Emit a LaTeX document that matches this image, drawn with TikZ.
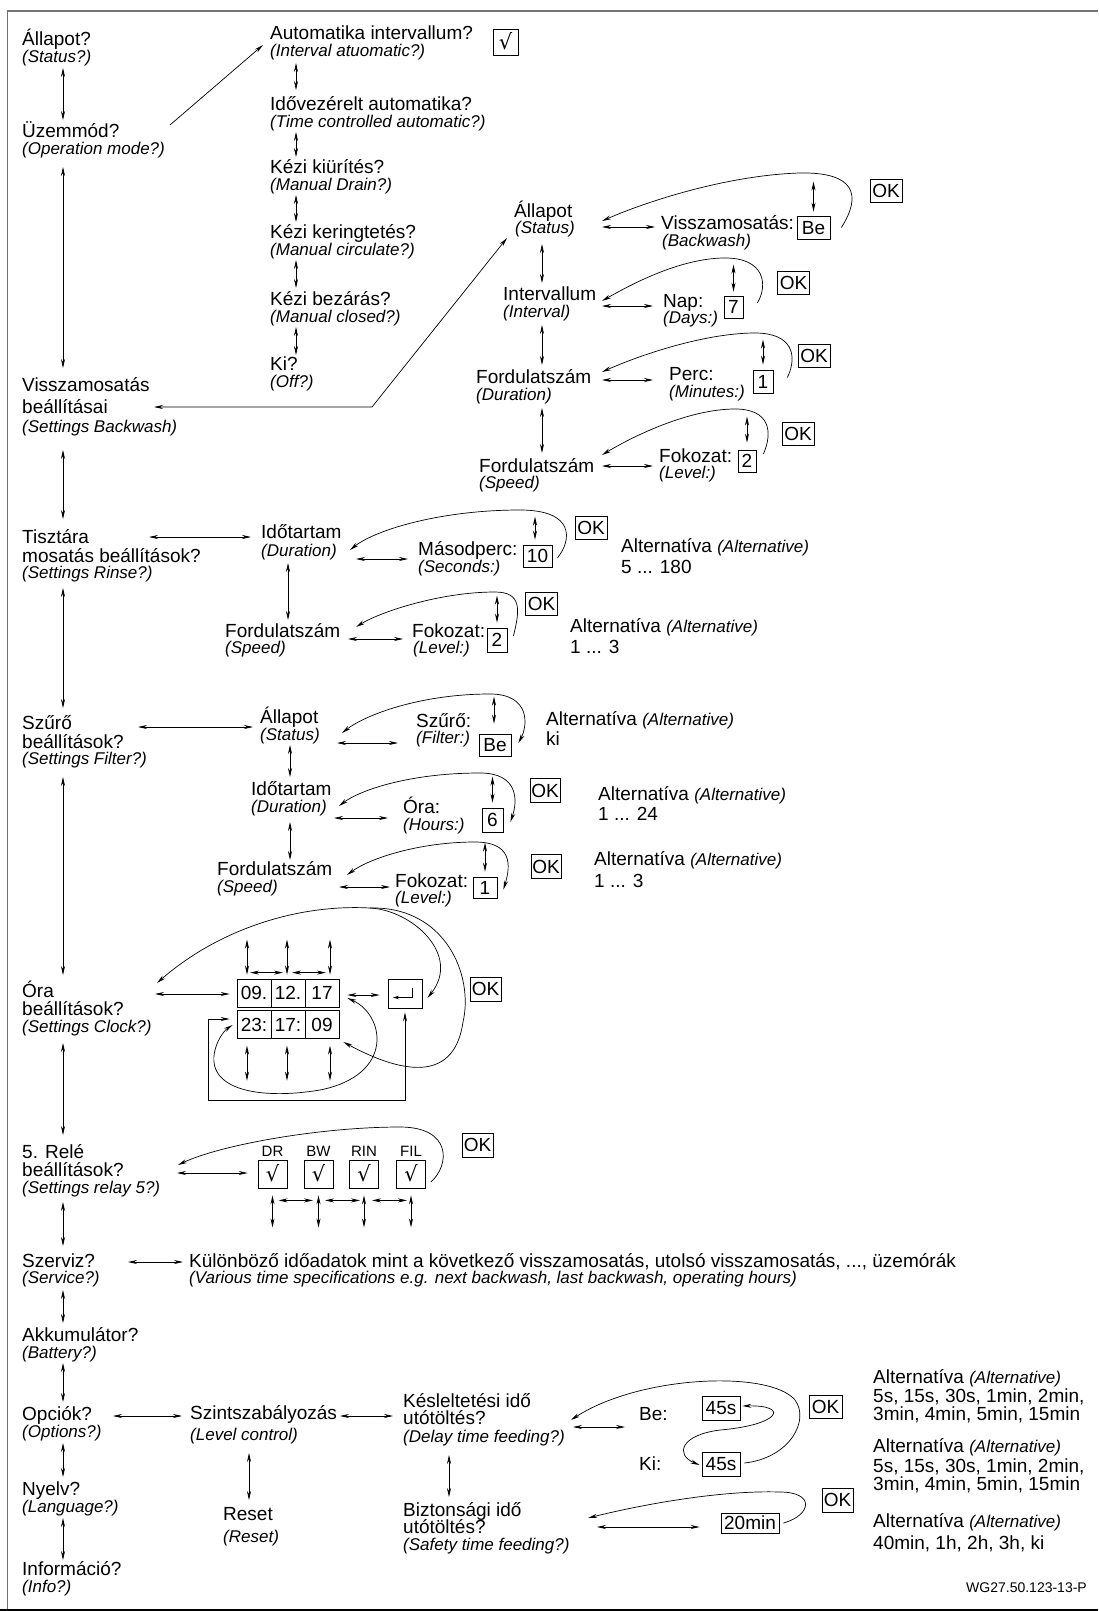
\documentclass[tikz,border=0pt]{standalone}
\usepackage{fontspec}
\setmainfont{Liberation Sans}
\newfontfamily\symfont{DejaVu Sans}
\usetikzlibrary{arrows.meta,positioning,calc}
\newcommand\hufont{\fontsize{19}{22}\selectfont}
\newcommand\enfont{\fontsize{17}{20}\selectfont\itshape}
\newcommand\chkfont{\symfont\fontsize{21}{23}\selectfont}
\tikzset{
  hu/.style={anchor=base west, inner sep=0pt, font=\hufont},
  en/.style={anchor=base west, inner sep=0pt, font=\enfont},
  valbox/.style={draw, line width=0.8pt, inner sep=0pt, text height=13.5pt, text depth=0pt, font=\hufont},
  okbox/.style={valbox, minimum width=32pt, minimum height=23pt},
  cell/.style={valbox, minimum width=34pt, minimum height=28pt},
  chkbox/.style={valbox, text height=15pt, font=\chkfont},
  rlbl/.style={inner sep=0pt, font=\fontsize{15}{17}\selectfont},
  dbl/.style={line width=0.7pt, {Stealth[length=9pt,width=4pt]}-{Stealth[length=9pt,width=4pt]}},
  one/.style={line width=0.7pt, -{Stealth[length=9pt,width=4pt]}},
}
\begin{document}
\begin{tikzpicture}[x=1pt,y=-1pt]
\useasboundingbox (0,0) rectangle (1098,1611);
\draw[black!55, line width=1.5pt] (7.5,1611) -- (7.5,11) -- (1098,11);
\draw[line width=2pt] (0,1609.5) -- (1098,1609.5);

% main menu
\node[hu] (st) at (22,46) {Állapot?};
\node[en] (st-en) at (22,63) {(Status?)};
\node[hu] (mode) at (22,137) {Üzemmód?};
\node[en] (mode-en) at (22,154) {(Operation mode?)};
\node[hu] (bw) at (22,391) {Visszamosatás};
\node[hu] (bw2) at (22,413) {beállításai};
\node[en] (bw-en) at (22,432) {(Settings Backwash)};
\node[hu] (ri) at (22,543) {Tisztára};
\node[hu] (ri2) at (22,562) {mosatás beállítások?};
\node[en] (ri-en) at (22,578) {(Settings Rinse?)};
\node[hu] (fi) at (22,729) {Szűrő};
\node[hu] (fi2) at (22,748) {beállítások?};
\node[en] (fi-en) at (22,764) {(Settings Filter?)};
\node[hu] (cl) at (22,997) {Óra};
\node[hu] (cl2) at (22,1015) {beállítások?};
\node[en] (cl-en) at (22,1032) {(Settings Clock?)};
\node[hu] (re) at (22,1158) {5. Relé};
\node[hu] (re2) at (22,1176) {beállítások?};
\node[en] (re-en) at (22,1193) {(Settings relay 5?)};
\node[hu] (sv) at (22,1267) {Szerviz?};
\node[en] (sv-en) at (22,1283) {(Service?)};
\node[hu] (ak) at (22,1341) {Akkumulátor?};
\node[en] (ak-en) at (22,1358) {(Battery?)};
\node[hu] (op) at (22,1420) {Opciók?};
\node[en] (op-en) at (22,1437) {(Options?)};
\node[hu] (ny) at (22,1495) {Nyelv?};
\node[en] (ny-en) at (22,1512) {(Language?)};
\node[hu] (info) at (22,1575) {Információ?};
\node[en] (info-en) at (22,1592) {(Info?)};

\draw[dbl] ([shift={(41,5)}]st-en.base west) -- ([shift={(41,-17)}]mode.base west);
\draw[dbl] ([shift={(41,13)}]mode-en.base west) -- ([shift={(41,-23)}]bw.base west);
\draw[dbl] ([shift={(41,18)}]bw-en.base west) -- ([shift={(41,-24)}]ri.base west);
\draw[dbl] ([shift={(41,10)}]ri-en.base west) -- ([shift={(41,-21)}]fi.base west);
\draw[dbl] ([shift={(41,13)}]fi-en.base west) -- ([shift={(41,-22)}]cl.base west);
\draw[dbl] ([shift={(41,11)}]cl-en.base west) -- ([shift={(41,-23)}]re.base west);
\draw[dbl] ([shift={(41,9)}]re-en.base west) -- ([shift={(41,-21)}]sv.base west);
\draw[dbl] ([shift={(41,7)}]sv-en.base west) -- ([shift={(41,-18)}]ak.base west);
\draw[dbl] ([shift={(41,5)}]ak-en.base west) -- ([shift={(41,-18)}]op.base west);
\draw[dbl] ([shift={(41,6)}]op-en.base west) -- ([shift={(41,-18)}]ny.base west);
\draw[dbl] ([shift={(41,6)}]ny-en.base west) -- ([shift={(41,-15)}]info.base west);

% operation modes
\node[hu] (au) at (270,40) {Automatika intervallum?};
\node[en] (au-en) at (270,57) {(Interval atuomatic?)};
\node[hu] (tc) at (270,110) {Idővezérelt automatika?};
\node[en] (tc-en) at (270,127) {(Time controlled automatic?)};
\node[hu] (md) at (270,173) {Kézi kiürítés?};
\node[en] (md-en) at (270,190) {(Manual Drain?)};
\node[hu] (mc) at (270,238) {Kézi keringtetés?};
\node[en] (mc-en) at (270,255) {(Manual circulate?)};
\node[hu] (mb) at (270,305) {Kézi bezárás?};
\node[en] (mb-en) at (270,322) {(Manual closed?)};
\node[hu] (off) at (270,370) {Ki?};
\node[en] (off-en) at (270,387) {(Off?)};
\node[chkbox, minimum width=25pt, minimum height=26pt] (chk) at (505.5,42) {√};

\draw[dbl] ([shift={(26,6)}]au-en.base west) -- ([shift={(26,-20)}]tc.base west);
\draw[dbl] ([shift={(26,5)}]tc-en.base west) -- ([shift={(26,-16)}]md.base west);
\draw[dbl] ([shift={(26,5)}]md-en.base west) -- ([shift={(26,-16)}]mc.base west);
\draw[dbl] ([shift={(26,5)}]mc-en.base west) -- ([shift={(26,-17)}]mb.base west);
\draw[dbl] ([shift={(26,5)}]mb-en.base west) -- ([shift={(26,-15)}]off.base west);
\draw[one] ([shift={(148,-29)}]mode-en.base west) -- ([shift={(-7,-12)}]au-en.base west);

% backwash settings
\node[hu] (stb) at (514,217) {Állapot};
\node[en] (stb-en) at (515,233) {(Status)};
\node[hu] (itv) at (503,300) {Intervallum};
\node[en] (itv-en) at (503,317) {(Interval)};
\node[hu] (dur) at (476,383) {Fordulatszám};
\node[en] (dur-en) at (476,400) {(Duration)};
\node[hu] (spd) at (479,472) {Fordulatszám};
\node[en] (spd-en) at (479,488) {(Speed)};
\coordinate (bwbend) at (372,407);
\draw[dbl] ([shift={(132,-6)}]bw2.base west) -- (bwbend) -- ([shift={(-8,5)}]stb-en.base west);
\draw[dbl] ([shift={(27,11)}]stb-en.base west) -- ([shift={(39,-17)}]itv.base west);
\draw[dbl] ([shift={(39,8)}]itv-en.base west) -- ([shift={(66,-18)}]dur.base west);
\draw[dbl] ([shift={(66,8)}]dur-en.base west) -- ([shift={(63,-19)}]spd.base west);

\node[hu] (bwv) at (661,229) {Visszamosatás:};
\node[en] (bwv-en) at (662,246) {(Backwash)};
\node[hu] (nap) at (663,307) {Nap:};
\node[en] (nap-en) at (663,323) {(Days:)};
\node[hu] (perc) at (669,380) {Perc:};
\node[en] (perc-en) at (669,397) {(Minutes:)};
\node[hu] (fok) at (659,462) {Fokozat:};
\node[en] (fok-en) at (659,478) {(Level:)};
\node[valbox, minimum width=33pt, minimum height=23pt] (be1) at (813.5,227.5) {Be};
\node[valbox, minimum width=19pt, minimum height=22pt] (v7) at (733.5,307) {7};
\node[valbox, minimum width=20pt, minimum height=23pt] (v1) at (763,381.5) {1};
\node[valbox, minimum width=18pt, minimum height=22pt] (v2) at (747,461) {2};
\node[okbox] (ok1) at (886,191) {OK};
\node[okbox] (ok2) at (793.5,283) {OK};
\node[okbox] (ok3) at (814,355.5) {OK};
\node[okbox] (ok4) at (798,434) {OK};

\draw[dbl] ([shift={(87,-6)}]stb-en.base west) -- ([shift={(-6,-2)}]bwv.base west);
\draw[dbl] ([shift={(99,-11)}]itv-en.base west) -- ([shift={(-10,-1)}]nap.base west);
\draw[dbl] ([shift={(126,-20)}]dur-en.base west) -- ([shift={(-16,0)}]perc.base west);
\draw[dbl] ([shift={(123,-22)}]spd-en.base west) -- ([shift={(-6,4)}]fok.base west);
\draw[dbl] ([shift={(0,-34)}]be1.north) -- ([shift={(0,-4)}]be1.north);
\draw[dbl] ([shift={(0,-31)}]v7.north) -- ([shift={(0,-4)}]v7.north);
\draw[dbl] ([shift={(0,-30)}]v1.north) -- ([shift={(0,-5)}]v1.north);
\draw[dbl] ([shift={(0,-33)}]v2.north) -- ([shift={(0,-7)}]v2.north);
\draw[one] ([shift={(11,0)}]be1.east) .. controls (862,195) and (855,172) .. (800,173)
  .. controls (730,175) and (650,200) .. ([shift={(87,-12)}]stb-en.base west);
\draw[one] ([shift={(14,-4)}]v7.east) .. controls (768,285) and (765,258) .. (725,258)
  .. controls (680,258) and (630,285) .. ([shift={(99,-16)}]itv-en.base west);
\draw[one] ([shift={(14,-4)}]v1.east) .. controls (798,355) and (792,333) .. (755,333)
  .. controls (705,333) and (640,355) .. ([shift={(126,-28)}]dur-en.base west);
\draw[one] ([shift={(7,-7)}]v2.east) .. controls (773,432) and (770,409) .. (735,409)
  .. controls (690,409) and (635,435) .. ([shift={(123,-33)}]spd-en.base west);

% rinse settings
\node[hu] (rdur) at (261,538) {Időtartam};
\node[en] (rdur-en) at (261,556) {(Duration)};
\node[hu] (rspd) at (225,637) {Fordulatszám};
\node[en] (rspd-en) at (225,653) {(Speed)};
\node[hu] (sec) at (418,555) {Másodperc:};
\node[en] (sec-en) at (418,572) {(Seconds:)};
\node[hu] (rfok) at (412,637) {Fokozat:};
\node[en] (rfok-en) at (413,653) {(Level:)};
\node[valbox, minimum width=29pt, minimum height=22pt] (v10) at (537.5,556) {10};
\node[valbox, minimum width=20pt, minimum height=24pt] (v2r) at (497,640) {2};
\node[okbox] (ok5) at (591,527.5) {OK};
\node[okbox] (ok6) at (541.5,604) {OK};
\node[hu] (alt1) at (621,552) {Alternatíva {\enfont (Alternative)}};
\node[hu] (alt1v) at (621,573) {5 ... 180};
\node[hu] (alt2) at (570,632) {Alternatíva {\enfont (Alternative)}};
\node[hu] (alt2v) at (570,653) {1 ... 3};

\draw[dbl] ([shift={(127,-6)}]ri.base west) -- ([shift={(-10,-1)}]rdur.base west);
\draw[dbl] ([shift={(95,3)}]rdur-en.base west) -- ([shift={(-10,4)}]sec.base west);
\draw[dbl] ([shift={(27,7)}]rdur-en.base west) -- ([shift={(63,-17)}]rspd.base west);
\draw[dbl] ([shift={(123,2)}]rspd.base west) -- ([shift={(-9,2)}]rfok.base west);
\draw[dbl] ([shift={(-2.5,-28)}]v10.north) -- ([shift={(-2.5,-5)}]v10.north);
\draw[dbl] ([shift={(0,-32)}]v2r.north) -- ([shift={(0,-5)}]v2r.north);
\draw[one] ([shift={(5,2)}]v10.east) .. controls (572,540) and (575,510) .. (520,510)
  .. controls (440,510) and (375,530) .. ([shift={(89,-6)}]rdur-en.base west);
\draw[one] ([shift={(6,-4)}]v2r.east) .. controls (520,610) and (522,592) .. (495,592)
  .. controls (440,592) and (380,612) .. ([shift={(131,-10)}]rspd.base west);

% filter settings
\node[hu] (fst) at (260,723) {Állapot};
\node[en] (fst-en) at (260,740) {(Status)};
\node[hu] (fdur) at (251,795) {Időtartam};
\node[en] (fdur-en) at (251,812) {(Duration)};
\node[hu] (fspd) at (217,875) {Fordulatszám};
\node[en] (fspd-en) at (217,892) {(Speed)};
\node[hu] (flt) at (416,727) {Szűrő:};
\node[en] (flt-en) at (416,743) {(Filter:)};
\node[hu] (hr) at (403,813) {Óra:};
\node[en] (hr-en) at (403,830) {(Hours:)};
\node[hu] (ffok) at (395,887) {Fokozat:};
\node[en] (ffok-en) at (395,903) {(Level:)};
\node[valbox, minimum width=32pt, minimum height=22pt] (fbe) at (495,745) {Be};
\node[valbox, minimum width=21pt, minimum height=24pt] (v6) at (492.5,820) {6};
\node[valbox, minimum width=24pt, minimum height=21pt] (v1f) at (485,887.5) {1};
\node[okbox, minimum width=30pt, minimum height=24pt] (ok7) at (545,790.5) {OK};
\node[okbox, minimum width=30pt, minimum height=24pt] (ok8) at (546,866.5) {OK};
\node[hu] (alt3) at (546,725) {Alternatíva {\enfont (Alternative)}};
\node[hu] (alt3v) at (546,745) {ki};
\node[hu] (alt4) at (598,800) {Alternatíva {\enfont (Alternative)}};
\node[hu] (alt4v) at (598,820) {1 ... 24};
\node[hu] (alt5) at (594,865) {Alternatíva {\enfont (Alternative)}};
\node[hu] (alt5v) at (594,887) {1 ... 3};

\draw[dbl] ([shift={(116,-2)}]fi.base west) -- ([shift={(-7,4)}]fst.base west);
\draw[dbl] ([shift={(77,3)}]fst-en.base west) -- ([shift={(-18,0)}]flt-en.base west);
\draw[dbl] ([shift={(30,5)}]fst-en.base west) -- ([shift={(39,-18)}]fdur.base west);
\draw[dbl] ([shift={(83,6)}]fdur-en.base west) -- ([shift={(-15,-12)}]hr-en.base west);
\draw[dbl] ([shift={(39,10)}]fdur-en.base west) -- ([shift={(73,-15)}]fspd.base west);
\draw[dbl] ([shift={(122,-5)}]fspd-en.base west) -- ([shift={(-5,0)}]ffok.base west);
\draw[dbl] ([shift={(-1,-37)}]fbe.north) -- ([shift={(-1,-10)}]fbe.north);
\draw[dbl] ([shift={(0,-31)}]v6.north) -- ([shift={(0,-5)}]v6.north);
\draw[dbl] ([shift={(0,-34)}]v1f.north) -- ([shift={(0,-5)}]v1f.north);
\draw[dbl] ([shift={(7,-2)}]fbe.east) .. controls (528,725) and (530,694) .. (490,694)
  .. controls (420,694) and (365,715) .. ([shift={(82,-7)}]fst-en.base west);
\draw[dbl] ([shift={(7,2)}]v6.east) .. controls (518,800) and (518,773) .. (480,773)
  .. controls (410,773) and (360,790) .. ([shift={(88,-6)}]fdur-en.base west);
\draw[dbl] ([shift={(6,2)}]v1f.east) .. controls (511,865) and (512,842) .. (475,842)
  .. controls (420,842) and (370,858) .. ([shift={(130,0)}]fspd.base west);

% clock settings
\node[cell] (d1) at (254,993) {09.};
\node[cell] (d2) at (288,993) {12.};
\node[cell] (d3) at (322,993) {17};
\node[cell, minimum height=27.5pt] (t1) at (254,1024.5) {23:};
\node[cell, minimum height=27.5pt] (t2) at (288,1024.5) {17:};
\node[cell, minimum height=27.5pt] (t3) at (322,1024.5) {09};
\node[valbox, minimum width=34pt, minimum height=29pt] (ent) at (405,993.5) {};
\node[okbox, minimum width=31pt, minimum height=24pt] (ok9) at (485.5,989) {OK};
\draw[line width=0.7pt, -{Stealth[length=6pt,width=3.5pt]}] ([shift={(7,-6)}]ent.center) |- ([shift={(-12,4)}]ent.center);

\draw[dbl] ([shift={(133,-3)}]cl.base west) -- ([shift={(-7,1)}]d1.west);
\draw[dbl] ([shift={(8,2)}]d3.east) -- ([shift={(-8,1.5)}]ent.west);
\draw[dbl] ([shift={(-7,-39)}]d1.north) -- ([shift={(-7,-4)}]d1.north);
\draw[dbl] ([shift={(-1,-39)}]d2.north) -- ([shift={(-1,-4)}]d2.north);
\draw[dbl] ([shift={(8,-39)}]d3.north) -- ([shift={(8,-4)}]d3.north);
\draw[dbl] ([shift={(-4,-6)}]d1.north) -- ([shift={(-5,-6)}]d2.north);
\draw[dbl] ([shift={(4,-6)}]d2.north) -- ([shift={(4,-6)}]d3.north);
\draw[dbl] ([shift={(-7,7)}]t1.south) -- ([shift={(-7,42)}]t1.south);
\draw[dbl] ([shift={(-1,7)}]t2.south) -- ([shift={(-1,42)}]t2.south);
\draw[dbl] ([shift={(8,7)}]t3.south) -- ([shift={(8,42)}]t3.south);
\coordinate (clk-bl) at (208,1100);
\coordinate (clk-top) at (370,908);
\draw[dbl] ([shift={(0,4)}]ent.south) |- (clk-bl) |- ([shift={(-7,-5.5)}]t1.west);
\draw[dbl] ([shift={(135,-14)}]cl.base west) .. controls (220,928) and (300,904) .. (clk-top)
  .. controls (412,910) and (462,955) .. ([shift={(5,4.5)}]ent.east);
\draw[one] (clk-top) .. controls (445,906) and (474,975) .. (463,1022)
  .. controls (455,1078) and (410,1078) .. ([shift={(4,17.5)}]t3.east);
\draw[dbl] ([shift={(8,5)}]d3.east) .. controls (385,1015) and (395,1075) .. (320,1090)
  .. controls (260,1100) and (205,1090) .. (215,1050)
  .. controls (218,1038) and (225,1030) .. ([shift={(-4,0.5)}]t1.west);

% relay 5
\node[chkbox, minimum width=29pt, minimum height=28pt] (drb) at (272.5,1174) {√};
\node[chkbox, minimum width=29pt, minimum height=28pt] (bwb) at (318.5,1174) {√};
\node[chkbox, minimum width=29pt, minimum height=28pt] (rinb) at (364,1174) {√};
\node[chkbox, minimum width=29pt, minimum height=28pt] (filb) at (411,1174) {√};
\node[rlbl, above=3pt of drb] (drl) {DR};
\node[rlbl, above=3pt of bwb] (bwl) {BW};
\node[rlbl, above=3pt of rinb] (rinl) {RIN};
\node[rlbl, above=3pt of filb] (fill) {FIL};
\node[okbox, minimum width=31pt, minimum height=24pt] (ok10) at (477.5,1145) {OK};

\draw[dbl] ([shift={(155,-3)}]re2.base west) -- ([shift={(-10,-1)}]drb.west);
\foreach \b in {drb,bwb,rinb,filb}
  \draw[dbl] ([shift={(0,7)}]\b.south) -- ([shift={(0,39)}]\b.south);
\draw[dbl] ([shift={(6,12)}]drb.south) -- ([shift={(-5.5,12)}]bwb.south);
\draw[dbl] ([shift={(6.5,12)}]bwb.south) -- ([shift={(-4,12)}]rinb.south);
\draw[dbl] ([shift={(8,12)}]rinb.south) -- ([shift={(-4,12)}]filb.south);
\draw[one] ([shift={(5,8)}]filb.east) .. controls (450,1165) and (452,1127) .. (400,1127)
  .. controls (320,1127) and (220,1145) .. ([shift={(156,-11)}]re2.base west);

% service
\node[hu] (svt) at (189,1267) {Különböző időadatok mint a következő visszamosatás, utolsó visszamosatás, ..., üzemórák};
\node[en] (svt-en) at (189,1283) {(Various time specifications e.g. next backwash, last backwash, operating hours)};
\draw[dbl] ([shift={(106,-5)}]sv.base west) -- ([shift={(-6,-5)}]svt.base west);

% options
\node[hu] (lvl) at (190,1419) {Szintszabályozás};
\node[en] (lvl-en) at (190,1440) {(Level control)};
\node[hu] (rst) at (223,1520) {Reset};
\node[en] (rst-en) at (223,1542) {(Reset)};
\node[hu] (dly) at (403,1407) {Késleltetési idő};
\node[hu] (dly2) at (403,1424) {utótöltés?};
\node[en] (dly-en) at (403,1442) {(Delay time feeding?)};
\node[hu] (saf) at (403,1516) {Biztonsági idő};
\node[hu] (saf2) at (403,1533) {utótöltés?};
\node[en] (saf-en) at (403,1550) {(Safety time feeding?)};
\node[hu] (bel) at (639,1420) {Be:};
\node[hu] (kil) at (639,1470) {Ki:};
\node[valbox, minimum width=38pt, minimum height=24pt] (vbe) at (721,1408) {45s};
\node[valbox, minimum width=38pt, minimum height=24pt] (vki) at (721,1464) {45s};
\node[valbox, minimum width=58pt, minimum height=20pt] (v20) at (750,1523) {20min};
\node[okbox, minimum width=33pt] (ok11) at (825.5,1406.5) {OK};
\node[okbox, minimum width=31pt, minimum height=24pt] (ok12) at (837.5,1500) {OK};
\node[hu] (alt6) at (873,1383) {Alternatíva {\enfont (Alternative)}};
\node[hu] (alt6a) at (873,1402) {5s, 15s, 30s, 1min, 2min,};
\node[hu] (alt6b) at (873,1420) {3min, 4min, 5min, 15min};
\node[hu] (alt7) at (873,1452) {Alternatíva {\enfont (Alternative)}};
\node[hu] (alt7a) at (873,1472) {5s, 15s, 30s, 1min, 2min,};
\node[hu] (alt7b) at (873,1490) {3min, 4min, 5min, 15min};
\node[hu] (alt8) at (873,1527) {Alternatíva {\enfont (Alternative)}};
\node[hu] (alt8a) at (873,1549) {40min, 1h, 2h, 3h, ki};
\node[hu, anchor=base east, font=\fontsize{14}{16}\selectfont] (code) at (1087,1592) {WG27.50.123-13-P};

\draw[dbl] ([shift={(91,-4)}]op.base west) -- ([shift={(-8,-3)}]lvl.base west);
\draw[dbl] ([shift={(150,-3)}]lvl.base west) -- ([shift={(-10,9)}]dly.base west);
\draw[dbl] ([shift={(59,13)}]lvl-en.base west) -- ([shift={(26,-20)}]rst.base west);
\draw[dbl] ([shift={(46,13)}]dly-en.base west) -- ([shift={(46,-19)}]saf.base west);
\draw[dbl] ([shift={(170,3)}]dly2.base west) -- ([shift={(-14,7)}]bel.base west);
\draw[dbl] ([shift={(194,-6)}]saf2.base west) -- ([shift={(-21,4)}]v20.west);
\draw[one] ([shift={(4,-1)}]vki.east) .. controls (790,1458) and (810,1420) .. (795,1400)
  .. controls (770,1370) and (640,1375) .. ([shift={(168,-4)}]dly2.base west);
\draw[dbl] ([shift={(2,-2)}]vbe.east) .. controls (790,1405) and (780,1425) .. (720,1430)
  .. controls (680,1435) and (675,1455) .. ([shift={(-2,1)}]vki.west);
\draw[one] ([shift={(4,0)}]v20.east) .. controls (812,1515) and (815,1492) .. (780,1492)
  .. controls (720,1490) and (640,1505) .. ([shift={(185,2)}]saf.base west);
\end{tikzpicture}
\end{document}
